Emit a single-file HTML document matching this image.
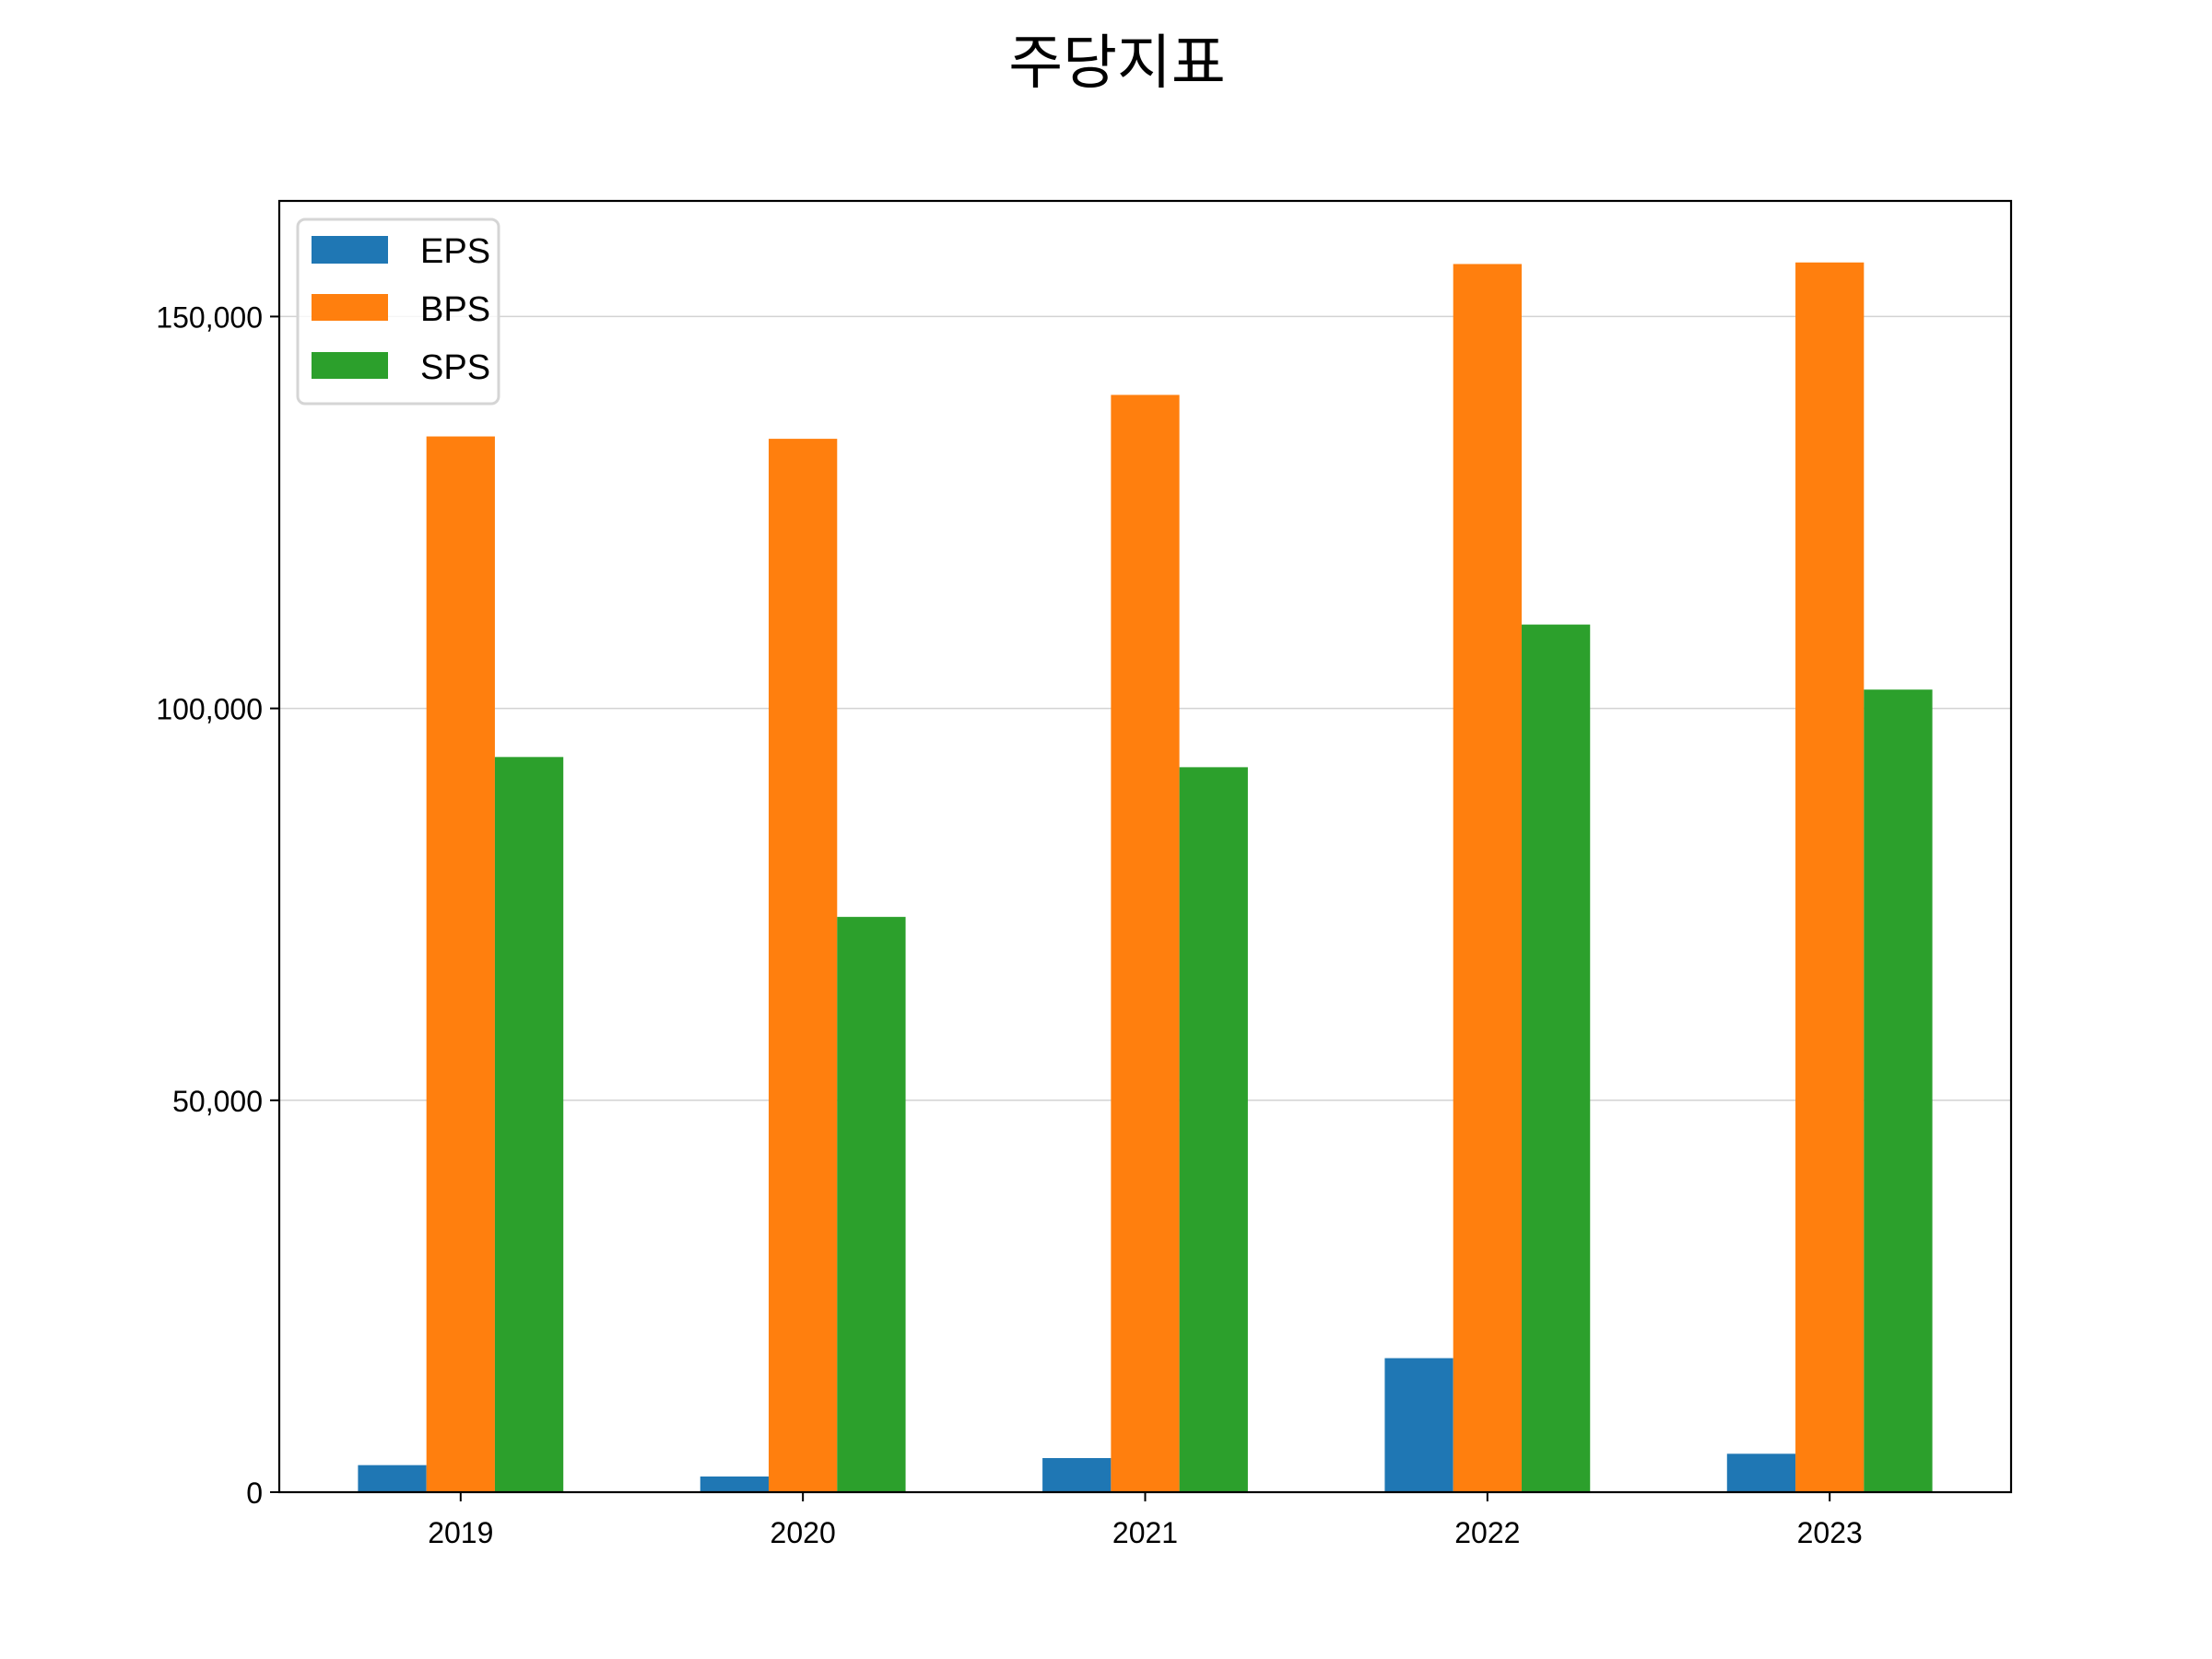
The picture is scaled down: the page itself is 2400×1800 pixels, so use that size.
<!DOCTYPE html>
<html><head><meta charset="utf-8"><style>
body{margin:0;background:#fff}
svg{display:block}
text{font-family:"Liberation Sans","Noto Sans CJK KR",sans-serif;fill:#000}
</style></head><body>
<svg id="chart" width="2400" height="1800" viewBox="0 0 2400 1800">
<rect width="2400" height="1800" fill="#fff"/>
<text x="1212" y="90" font-size="64" text-anchor="middle" font-family="Noto Sans CJK KR, sans-serif">주당지표</text>
<g id="grid"></g>
<g id="bars"></g>
<g id="axes"></g>
<g>
<rect x="323" y="238" width="218" height="200" rx="8" fill="#fff" fill-opacity="0.8" stroke="#d5d5d5" stroke-width="3"/>
<rect x="338" y="256" width="83" height="30" fill="#1f77b4"/>
<text x="456" y="285" font-size="38">EPS</text>
<rect x="338" y="319" width="83" height="29" fill="#ff7f0e"/>
<text x="456" y="348" font-size="38">BPS</text>
<rect x="338" y="382" width="83" height="29" fill="#2ca02c"/>
<text x="456" y="411" font-size="38">SPS</text>
</g>
</svg>
<script>
const categories = ["2019","2020","2021","2022","2023"];
const epsValues = [3450, 2000, 4350, 17100, 4900];
const bpsValues = [134700, 134400, 140000, 156700, 156900];
const spsValues = [93800, 73400, 92500, 110700, 102400];
const yTicks = [0, 50000, 100000, 150000];
const yTickLabels = ["0", "50,000", "100,000", "150,000"];

const NS = "http://www.w3.org/2000/svg";
const L = 303, R = 2182, T = 218, B = 1619;
const yMax = 164750;
const xMin = -0.53, xMax = categories.length - 1 + 0.53;
function xS(i){ return L + (i - xMin) / (xMax - xMin) * (R - L); }
function yS(v){ return B - v / yMax * (B - T); }
const unit = xS(1) - xS(0);
const bw = unit * 0.2;
function mk(tag, attrs, parent){ const e = document.createElementNS(NS, tag); for (const k in attrs) e.setAttribute(k, attrs[k]); parent.appendChild(e); return e; }
const grid = document.getElementById("grid"), bars = document.getElementById("bars"), axes = document.getElementById("axes");

yTicks.forEach((v, i) => {
  const y = yS(v);
  if (v > 0) {
    const g = mk("line", {x1: L, x2: R, y1: y, y2: y, stroke: "#d3d3d3", "stroke-width": 1.5}, grid);
    
    
  }
  const t = mk("line", {x1: L - 10, x2: L, y1: y, y2: y, stroke: "#000", "stroke-width": 2}, axes);
  
  
  const lb = mk("text", {x: L - 18, y: y + 12, "font-size": 32, "text-anchor": "end"}, axes);
  lb.textContent = yTickLabels[i];
  
  
});

const series = [[epsValues, "#1f77b4", "eps"], [bpsValues, "#ff7f0e", "bps"], [spsValues, "#2ca02c", "sps"]];
series.forEach((s, si) => {
  s[0].forEach((v, i) => {
    const cx = xS(i) + (si - 1) * bw;
    const r = mk("rect", {x: cx - bw / 2, y: yS(v), width: bw, height: B - yS(v), fill: s[1]}, bars);
    
    
  });
});

categories.forEach((c, i) => {
  const x = xS(i);
  const t = mk("line", {x1: x, x2: x, y1: B, y2: B + 10, stroke: "#000", "stroke-width": 2}, axes);
  
  
  const lb = mk("text", {x: x, y: B + 55, "font-size": 32, "text-anchor": "middle"}, axes);
  lb.textContent = c;
  
  
});

const frame = mk("rect", {x: L, y: T, width: R - L, height: B - T, fill: "none", stroke: "#000", "stroke-width": 2.2}, axes);


</script>
</body></html>
